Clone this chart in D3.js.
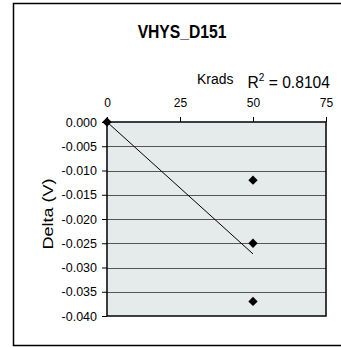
<!DOCTYPE html>
<html><head><meta charset="utf-8">
<script src="https://cdn.jsdelivr.net/npm/d3@7"></script>
<style>body{margin:0;background:#fff}svg{display:block;font-family:Arial,"Liberation Sans",sans-serif}</style>
</head><body>
<script>
const xValues = [0, 50, 50, 50];
const yValues = [0, -0.012, -0.025, -0.037];
const trendX = [0, 50];
const trendY = [0, -0.0272];
const xTicks = [0, 25, 50, 75];
const yTicks = [0, -0.005, -0.010, -0.015, -0.020, -0.025, -0.030, -0.035, -0.040];
const title = "VHYS_D151";
const xLabel = "Krads";
const yLabel = "Delta (V)";
const r2Text = "0.8104";

const W = 341, H = 348;
const FONT = "Arial,'Liberation Sans',sans-serif";
const svg = d3.select("body").append("svg").attr("width", W).attr("height", H);
svg.append("rect").attr("x", 13.5).attr("y", 3.5).attr("width", 340).attr("height", 342)
  .attr("fill", "#fff").attr("stroke", "#000").attr("stroke-width", 1.5);

const L = 107, R = 326, T = 122, B = 316;
const x = d3.scaleLinear().domain([0, 75]).range([L, R]);
const y = d3.scaleLinear().domain([0, -0.04]).range([T, B]);

svg.append("rect").attr("x", L).attr("y", T).attr("width", R - L).attr("height", B - T)
  .attr("fill", "#e5eaea");
svg.append("g").selectAll("line").data(yTicks.slice(1, -1)).join("line")
  .attr("x1", L).attr("x2", R)
  .attr("y1", d => Math.round(y(d)) + 0.5).attr("y2", d => Math.round(y(d)) + 0.5)
  .attr("stroke", "#555").attr("stroke-width", 1);
svg.append("rect").attr("x", L).attr("y", T).attr("width", R - L).attr("height", B - T)
  .attr("fill", "none").attr("stroke", "#000").attr("stroke-width", 1.5);

const xAxis = d3.axisTop(x).tickValues(xTicks).tickSize(5).tickPadding(10).tickFormat(d3.format("d"));
const xa = svg.append("g").attr("transform", `translate(0,${T})`).call(xAxis);
xa.select(".domain").remove();
xa.selectAll("line").attr("stroke", "#000");
xa.selectAll("text").attr("font-size", 12).attr("fill", "#000").attr("font-family", FONT);

const yAxis = d3.axisLeft(y).tickValues(yTicks).tickSize(5).tickPadding(5).tickFormat(d3.format(".3f"));
const ya = svg.append("g").attr("transform", `translate(${L},0)`).call(yAxis);
ya.select(".domain").remove();
ya.selectAll("line").attr("stroke", "#000");
ya.selectAll("text").attr("font-size", 12.5).attr("fill", "#000").attr("font-family", FONT)
  .text(d => d3.format(".3f")(d).replace("−", "-"));

svg.append("line")
  .attr("x1", x(trendX[0])).attr("y1", y(trendY[0]))
  .attr("x2", x(trendX[1])).attr("y2", y(trendY[1]))
  .attr("stroke", "#000").attr("stroke-width", 1);

const sym = d3.symbol().type(d3.symbolDiamond2).size(55);
svg.selectAll("path.pt").data(xValues.map((v, i) => [v, yValues[i]])).join("path")
  .attr("d", sym).attr("transform", d => `translate(${x(d[0])},${y(d[1])})`).attr("fill", "#000");

svg.append("text").attr("transform", "translate(182,38) scale(0.87,1)").attr("text-anchor", "middle")
  .attr("font-size", 18).attr("font-weight", "bold").text(title);
svg.append("text").attr("transform", "translate(197,84) scale(0.9,1)").attr("font-size", 15.5).text(xLabel);
const rt = svg.append("text").attr("transform", "translate(330,88) scale(0.92,1)")
  .attr("text-anchor", "end").attr("font-size", 17);
rt.append("tspan").text("R");
rt.append("tspan").attr("dy", -7).attr("font-size", 11).text("2");
rt.append("tspan").attr("dy", 7).text(" = " + r2Text);
svg.append("text").attr("transform", `translate(53,214) scale(0.8,1) rotate(-90)`).attr("text-anchor", "middle")
  .attr("font-size", 18).text(yLabel);
</script>
</body></html>
